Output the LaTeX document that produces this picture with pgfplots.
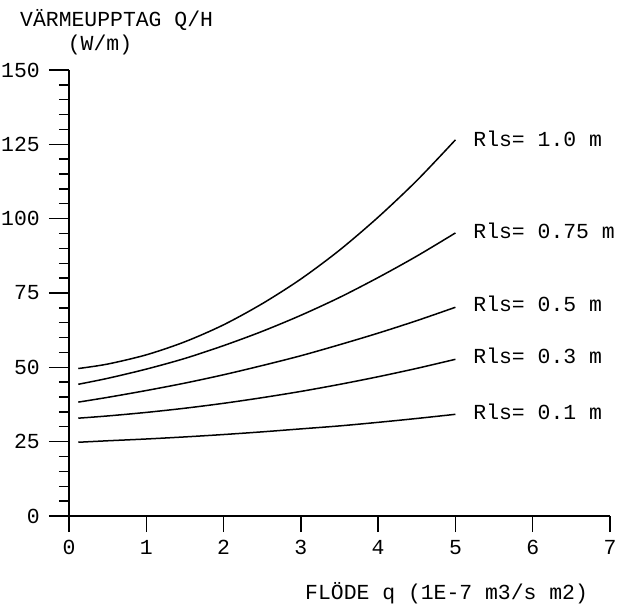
\documentclass[border=0pt]{standalone}
\usepackage{fontspec}
\setmainfont{Liberation Mono}
\usepackage{pgfplots}
\pgfplotsset{compat=1.18}
\begin{document}
\fontsize{21.5}{24}\selectfont
\begin{tikzpicture}
\path[use as bounding box] (-69bp,-94bp) rectangle (549bp,516bp);
\begin{axis}[
  at={(0,0)}, anchor=south west,
  scale only axis, width=541bp, height=446bp,
  xmin=0, xmax=7, ymin=0, ymax=150,
  axis x line=none,
  axis y line*=left,
  axis line style={line width=1.4bp},
  ytick={0,25,50,75,100,125,150},
  yticklabels={0,25,50,75,100,125,150},
  minor y tick num=4,
  tick align=outside,
  major tick length=20bp, minor tick length=10bp,
  tick style={line width=1.4bp, black},
  yticklabel style={font=\fontsize{21.5}{24}\selectfont, anchor=east, inner sep=0pt, xshift=-9bp},
  clip=false,
]
\addplot[smooth, line width=1.5bp] coordinates {(0.12,49.6) (0.5,51.1) (1,54.2) (1.5,58.6) (2,64.3) (2.5,71.4) (3,79.7) (3.5,89.4) (4,100.5) (4.5,112.8) (5,126.5)};
\addplot[smooth, line width=1.5bp] coordinates {(0.12,44.3) (0.5,46.3) (1,49.4) (1.5,53.0) (2,57.3) (2.5,62.1) (3,67.5) (3.5,73.5) (4,80.2) (4.5,87.4) (5,95.2)};
\addplot[smooth, line width=1.5bp] coordinates {(0.12,38.3) (0.5,39.9) (1,42.2) (1.5,44.7) (2,47.5) (2.5,50.6) (3,53.9) (3.5,57.6) (4,61.5) (4.5,65.7) (5,70.2)};
\addplot[smooth, line width=1.5bp] coordinates {(0.12,32.9) (0.5,33.65) (1,34.84) (1.5,36.25) (2,37.9) (2.5,39.8) (3,41.9) (3.5,44.26) (4,46.84) (4.5,49.65) (5,52.7)};
\addplot[smooth, line width=1.5bp] coordinates {(0.12,24.8) (0.5,25.3) (1,25.9) (1.5,26.6) (2,27.4) (2.5,28.3) (3,29.3) (3.5,30.3) (4,31.5) (4.5,32.8) (5,34.2)};
\node[anchor=west, inner sep=0pt] at (axis cs:5.23,127) {Rls= 1.0 m};
\node[anchor=west, inner sep=0pt] at (axis cs:5.23,96) {Rls= 0.75 m};
\node[anchor=west, inner sep=0pt] at (axis cs:5.23,71.5) {Rls= 0.5 m};
\node[anchor=west, inner sep=0pt] at (axis cs:5.23,54) {Rls= 0.3 m};
\node[anchor=west, inner sep=0pt] at (axis cs:5.23,35) {Rls= 0.1 m};
\end{axis}
\begin{axis}[
  at={(0,0)}, anchor=south west,
  scale only axis, width=541bp, height=446bp,
  xmin=0, xmax=7, ymin=0, ymax=150,
  axis y line=none,
  axis x line*=bottom,
  axis line style={line width=1.4bp},
  xtick={0,1,2,3,4,5,6,7},
  xticklabels={0,1,2,3,4,5,6,7},
  tick align=outside,
  major tick length=16bp,
  tick style={line width=1.4bp, black},
  xticklabel style={font=\fontsize{21.5}{24}\selectfont, anchor=north, inner sep=0pt, yshift=-8bp},
]
\end{axis}
\node[anchor=west, inner sep=0pt] at (-49bp,496bp) {VÄRMEUPPTAG Q/H};
\node[inner sep=0pt] at (31bp,471bp) {(W/m)};
\node[anchor=west, inner sep=0pt] at (236bp,-77bp) {FLÖDE q (1E-7 m3/s m2)};
\end{tikzpicture}
\end{document}
